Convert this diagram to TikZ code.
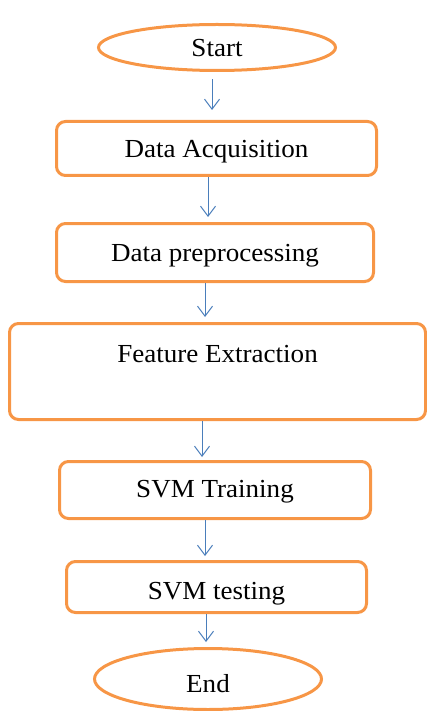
\documentclass[tikz,border=0pt]{standalone}
\usepackage{fontspec}
\setmainfont{Liberation Serif}[FakeStretch=1.04]
\usetikzlibrary{shapes.geometric,arrows.meta}
\definecolor{boxorange}{HTML}{F79646}
\definecolor{arrowblue}{HTML}{4A7EBB}
\begin{document}
\begin{tikzpicture}[x=1pt,y=-1pt,
  every node/.style={font=\fontsize{26}{30}\selectfont, inner sep=0pt, outer sep=0pt},
  terminal/.style={ellipse, draw=boxorange, line width=3pt},
  stepbox/.style={rectangle, rounded corners=9pt, draw=boxorange, line width=3pt},
  arr/.style={draw=arrowblue, line width=1pt, -{Straight Barb[length=10pt,width=15pt]}}]
\useasboundingbox (0,0) rectangle (427,711);
\node[terminal, minimum width=237pt, minimum height=46pt,
  label={[shift={(0,0.5)}]center:Start}] (start) at (217,47.5) {};
\node[stepbox, minimum width=320pt, minimum height=54pt,
  label={[shift={(0,3)}]center:Data Acquisition}] (acq) at (216.5,148.5) {};
\node[stepbox, minimum width=317pt, minimum height=58pt,
  label={[shift={(0,3)}]center:Data preprocessing}] (pre) at (215,252.5) {};
\node[stepbox, minimum width=416pt, minimum height=96pt,
  label={[shift={(0,-17)}]center:Feature Extraction}] (feat) at (217.5,371.5) {};
\node[stepbox, minimum width=311pt, minimum height=57pt,
  label={[shift={(0,2)}]center:SVM Training}] (svmt) at (215,490) {};
\node[stepbox, minimum width=300pt, minimum height=51pt,
  label={[shift={(0,7)}]center:SVM testing}] (svmtest) at (216.5,587) {};
\node[terminal, minimum width=227pt, minimum height=61pt,
  label={[shift={(0,5)}]center:End}] (end) at (208,679) {};
\draw[arr] ([shift={(-5,9)}]start.south) -- ([shift={(-4.5,-11.5)}]acq.north);
\draw[arr] ([shift={(-8.5,1.5)}]acq.south) -- ([shift={(-7,-6.5)}]pre.north);
\draw[arr] ([shift={(-10,1.5)}]pre.south) -- ([shift={(-12.5,-6.5)}]feat.north);
\draw[arr] ([shift={(-15.5,1.5)}]feat.south) -- ([shift={(-13,-4.5)}]svmt.north);
\draw[arr] ([shift={(-10,1.5)}]svmt.south) -- ([shift={(-11.5,-5.5)}]svmtest.north);
\draw[arr] ([shift={(-10.5,1.5)}]svmtest.south) -- ([shift={(-2,-6.5)}]end.north);
\end{tikzpicture}
\end{document}
